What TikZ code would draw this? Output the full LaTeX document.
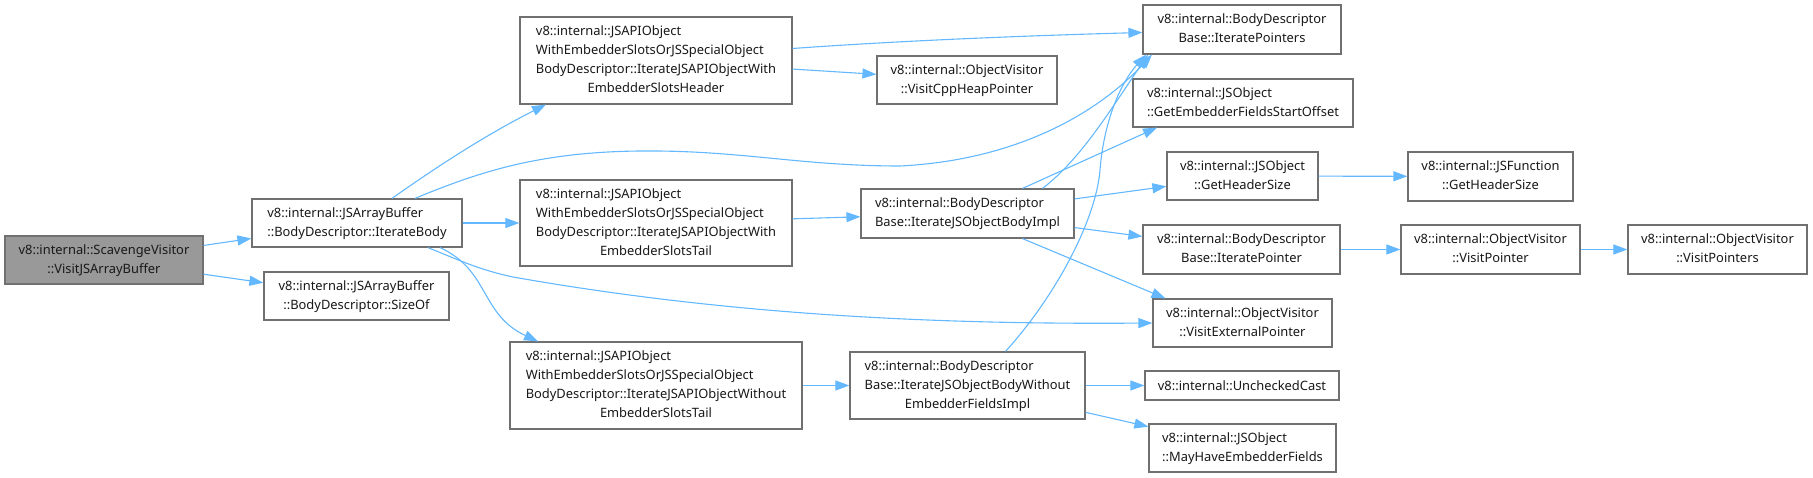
\documentclass[tikz,border=0pt]{standalone}
\usepackage{fontspec}
\setmainfont{Noto Sans}
\usetikzlibrary{arrows.meta}

\definecolor{edgeblue}{HTML}{63B8FF}
\definecolor{boxline}{HTML}{707070}
\definecolor{rootfill}{HTML}{999999}

% all lines left, last line centred (doxygen style)
\newcommand\fnlbl[2]{\begin{tabular}{@{}l@{}}#1\\\multicolumn{1}{@{}c@{}}{#2}\end{tabular}}

\begin{document}
\begin{tikzpicture}[x=1pt, y=-1pt]

  \tikzstyle{fn}   = [draw=boxline, line width=1.2pt, fill=white, inner sep=0pt,
                      text=black!90, font=\fontsize{12.9}{19}\selectfont]
  \tikzstyle{root} = [fn, fill=rootfill]
  \tikzstyle{link} = [edgeblue, line width=1.1pt, -{Triangle[length=14pt,width=10pt]}]

  \useasboundingbox (0,0) rectangle (1813,478);

  % ---- COLUMN 1-2 ----
  \node[root, minimum width=198pt, minimum height=48pt] (scav) at (104,260)
    {\fnlbl{v8::internal::ScavengeVisitor}{::VisitJSArrayBuffer}};
  \node[fn, minimum width=210pt, minimum height=48pt] (body) at (357,223)
    {\fnlbl{v8::internal::JSArrayBuffer}{::BodyDescriptor::IterateBody}};
  \node[fn, minimum width=185pt, minimum height=48pt] (sizeof) at (356.5,296)
    {\fnlbl{v8::internal::JSArrayBuffer}{::BodyDescriptor::SizeOf}};

  % ---- COLUMN 3 ----
  \node[fn, minimum width=272pt, minimum height=87pt] (hdr) at (656,60.5)
    {\fnlbl{v8::internal::JSAPIObject\\WithEmbedderSlotsOrJSSpecialObject\\BodyDescriptor::IterateJSAPIObjectWith}{EmbedderSlotsHeader}};
  \node[fn, minimum width=272pt, minimum height=86pt] (tail) at (656,223)
    {\fnlbl{v8::internal::JSAPIObject\\WithEmbedderSlotsOrJSSpecialObject\\BodyDescriptor::IterateJSAPIObjectWith}{EmbedderSlotsTail}};
  \node[fn, minimum width=292pt, minimum height=87pt] (wtail) at (656,385.5)
    {\fnlbl{v8::internal::JSAPIObject\\WithEmbedderSlotsOrJSSpecialObject\\BodyDescriptor::IterateJSAPIObjectWithout}{EmbedderSlotsTail}};

  % ---- COLUMN 4 ----
  \node[fn, minimum width=180pt, minimum height=48pt] (cpp) at (967,80)
    {\fnlbl{v8::internal::ObjectVisitor}{::VisitCppHeapPointer}};
  \node[fn, minimum width=213pt, minimum height=49pt] (impl) at (967.5,213.5)
    {\fnlbl{v8::internal::BodyDescriptor}{Base::IterateJSObjectBodyImpl}};
  \node[fn, minimum width=235pt, minimum height=67pt] (wimpl) at (967.5,385.5)
    {\fnlbl{v8::internal::BodyDescriptor\\Base::IterateJSObjectBodyWithout}{EmbedderFieldsImpl}};

  % ---- COLUMN 5 ----
  \node[fn, minimum width=198pt, minimum height=49pt] (ptrs) at (1242,29.5)
    {\fnlbl{v8::internal::BodyDescriptor}{Base::IteratePointers}};
  \node[fn, minimum width=220pt, minimum height=48pt] (start) at (1243,103)
    {\fnlbl{v8::internal::JSObject}{::GetEmbedderFieldsStartOffset}};
  \node[fn, minimum width=151pt, minimum height=48pt] (hsize) at (1242.5,176)
    {\fnlbl{v8::internal::JSObject}{::GetHeaderSize}};
  \node[fn, minimum width=197pt, minimum height=49pt] (ptr) at (1241.5,249.5)
    {\fnlbl{v8::internal::BodyDescriptor}{Base::IteratePointer}};
  \node[fn, minimum width=179pt, minimum height=48pt] (ext) at (1242.5,323)
    {\fnlbl{v8::internal::ObjectVisitor}{::VisitExternalPointer}};
  \node[fn, minimum width=194pt, minimum height=29pt] (cast) at (1242,385.5)
    {v8::internal::UncheckedCast};
  \node[fn, minimum width=187pt, minimum height=48pt] (may) at (1242.5,448)
    {\fnlbl{v8::internal::JSObject}{::MayHaveEmbedderFields}};

  % ---- COLUMN 6-7 ----
  \node[fn, minimum width=165pt, minimum height=49pt] (fhsize) at (1490.5,176.5)
    {\fnlbl{v8::internal::JSFunction}{::GetHeaderSize}};
  \node[fn, minimum width=179pt, minimum height=49pt] (vptr) at (1490.5,249.5)
    {\fnlbl{v8::internal::ObjectVisitor}{::VisitPointer}};
  \node[fn, minimum width=179pt, minimum height=49pt] (vptrs) at (1717.5,249.5)
    {\fnlbl{v8::internal::ObjectVisitor}{::VisitPointers}};

  % ---- STRAIGHT CALLS ----
  \foreach \a/\b in {scav/body, scav/sizeof, body/tail, hdr/cpp, tail/impl,
                     wtail/wimpl, impl/hsize, impl/ptr, wimpl/cast, wimpl/may,
                     hsize/fhsize, ptr/vptr, vptr/vptrs}{
    \draw[link] (\a) -- (\b);
  }

  % ---- CURVED CALLS ----
  \draw[link] ([xshift=35pt]body.north) .. controls +(48,-34) and +(-56,28) .. ([xshift=-110pt]hdr.south);
  \draw[link] ([xshift=58pt]body.north) .. controls +(65,-27) and +(-100,1) .. (640,151)
              .. controls +(100,-1) and +(-100,0) .. (900,166)
              .. controls +(120,-6) and +(-52,56) .. ([xshift=-90pt]ptrs.south);
  \draw[link] ([xshift=83pt]body.south) .. controls +(50,23) and +(-58,-27) .. ([xshift=-118pt]wtail.north);
  \draw[link] ([xshift=71pt]body.south) .. controls +(32,13) and +(-33,-7) .. (513,277)
              .. controls +(187,33) and +(-253,2) .. (ext.west);
  \draw[link] ([yshift=12pt]hdr.east) .. controls +(110,-8) and +(-110,3) .. ([yshift=-3pt]ptrs.west);
  \draw[link] ([xshift=55pt]impl.north) -- ([xshift=-86pt]start.south);
  \draw[link] ([xshift=75pt]impl.north) .. controls +(38,-29) and +(-38,56) .. ([xshift=-94pt]ptrs.south);
  \draw[link] ([xshift=38pt]wimpl.north) .. controls +(50,-55) and +(-4,50) .. (1100,170)
              .. controls +(4,-50) and +(-25,28) .. ([xshift=-96pt]ptrs.south);
  \draw[link] ([xshift=55pt]impl.south) -- ([xshift=-77pt]ext.north);

\end{tikzpicture}
\end{document}
